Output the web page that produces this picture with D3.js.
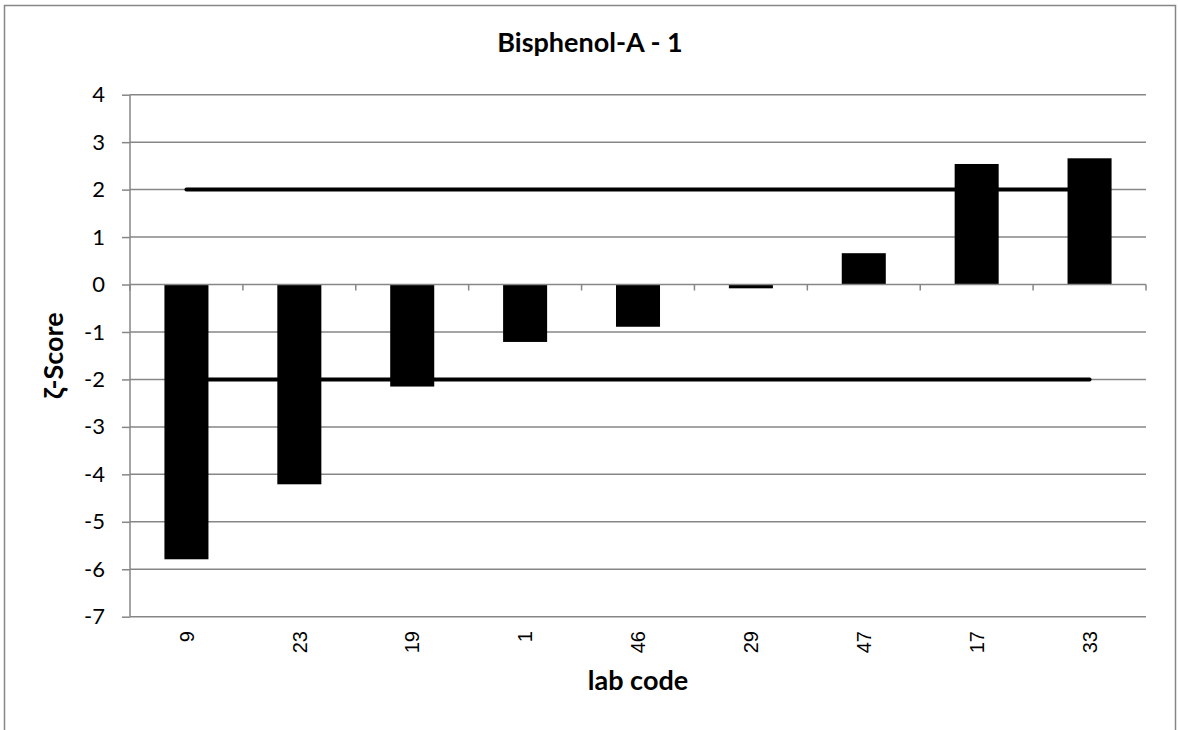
<!DOCTYPE html>
<html>
<head>
<meta charset="utf-8">
<script src="https://cdn.jsdelivr.net/npm/d3@7"></script>
<style>
  html, body { margin: 0; padding: 0; background: #fff; }
  svg { display: block; }
</style>
</head>
<body>
<svg id="chart" width="1178" height="730"></svg>
<script>
const labCodes = ["9", "23", "19", "1", "46", "29", "47", "17", "33"];
const zetaScores = [-5.79, -4.21, -2.15, -1.21, -0.89, -0.08, 0.66, 2.54, 2.66];
const upperLimit = 2;
const lowerLimit = -2;
const yTicks = [4, 3, 2, 1, 0, -1, -2, -3, -4, -5, -6, -7];
const chartTitle = "Bisphenol-A - 1";
const xTitle = "lab code";
const yTitle = "ζ-Score";

const svg = d3.select("#chart");
const W = 1178, H = 730;
const plot = { left: 130, right: 1146, top: 94.7, bottom: 616.7 };
const grid = "#868686";

svg.append("rect").attr("x", 0).attr("y", 0).attr("width", W).attr("height", H).attr("fill", "#fff");
svg.append("rect").attr("x", 4.5).attr("y", 5.5).attr("width", 1171).attr("height", 740)
  .attr("fill", "none").attr("stroke", grid).attr("stroke-width", 1.5);

const x = d3.scaleBand().domain(labCodes).range([plot.left, plot.right]).paddingInner(0.61).paddingOuter(0.305);
const y = d3.scaleLinear().domain([-7, 4]).range([plot.bottom, plot.top]);

// horizontal gridlines + y ticks
const yAxis = d3.axisLeft(y).tickValues(yTicks).tickSize(8).tickFormat(d => d < 0 ? "-" + Math.abs(d) : String(d));
const gy = svg.append("g").attr("transform", `translate(${plot.left},0)`).call(yAxis);
gy.select(".domain").remove();
gy.selectAll(".tick line").attr("stroke", grid).attr("stroke-width", 1.5);
gy.selectAll(".tick text").attr("x", -25).attr("fill", "#000")
  .style("font-family", "Lato, 'Open Sans', sans-serif").style("font-size", "22px");

svg.append("g").selectAll("line").data(yTicks.filter(d => d !== 0)).join("line")
  .attr("x1", plot.left).attr("x2", plot.right)
  .attr("y1", d => y(d)).attr("y2", d => y(d))
  .attr("stroke", grid).attr("stroke-width", 1.5);

// y axis line
svg.append("line").attr("x1", plot.left).attr("x2", plot.left).attr("y1", plot.top).attr("y2", plot.bottom)
  .attr("stroke", grid).attr("stroke-width", 1.5);

// bars
svg.append("g").selectAll("rect").data(zetaScores).join("rect")
  .attr("x", (d, i) => x(labCodes[i]))
  .attr("width", x.bandwidth())
  .attr("y", d => Math.min(y(d), y(0)))
  .attr("height", d => Math.abs(y(d) - y(0)))
  .attr("fill", "#000");

// x axis at zero with ticks at category boundaries
const boundaries = d3.range(labCodes.length + 1).map(i => plot.left + i * (plot.right - plot.left) / labCodes.length);
svg.append("line").attr("x1", plot.left).attr("x2", plot.right).attr("y1", y(0)).attr("y2", y(0))
  .attr("stroke", grid).attr("stroke-width", 1.5);
svg.append("g").selectAll("line").data(boundaries).join("line")
  .attr("x1", d => d).attr("x2", d => d).attr("y1", y(0)).attr("y2", y(0) + 6)
  .attr("stroke", grid).attr("stroke-width", 1.5);

// limit lines
const cFirst = x(labCodes[0]) + x.bandwidth() / 2;
const cLast = x(labCodes[labCodes.length - 1]) + x.bandwidth() / 2;
[upperLimit, lowerLimit].forEach(v => {
  svg.append("line").attr("x1", cFirst).attr("x2", cLast).attr("y1", y(v)).attr("y2", y(v))
    .attr("stroke", "#000").attr("stroke-width", 4).attr("stroke-linecap", "round");
});

// x category labels (rotated)
svg.append("g").selectAll("text").data(labCodes).join("text")
  .attr("transform", d => `translate(${x(d) + x.bandwidth() / 2},631) rotate(-90)`)
  .attr("text-anchor", "end").attr("dy", "0.36em")
  .style("font-family", "'Liberation Sans', Arial, sans-serif").style("font-size", "20px")
  .text(d => d);

// titles
svg.append("text").attr("x", 590).attr("y", 52).attr("text-anchor", "middle")
  .style("font-family", "Lato, 'Open Sans', sans-serif").style("font-weight", "bold").style("font-size", "27px")
  .text(chartTitle);
svg.append("text").attr("x", (plot.left + plot.right) / 2).attr("y", 690).attr("text-anchor", "middle")
  .style("font-family", "Lato, 'Open Sans', sans-serif").style("font-weight", "bold").style("font-size", "27px")
  .text(xTitle);
svg.append("text").attr("transform", `translate(63,${(plot.top + plot.bottom) / 2}) rotate(-90)`).attr("text-anchor", "middle")
  .style("font-family", "Lato, 'Open Sans', sans-serif").style("font-weight", "bold").style("font-size", "27px")
  .text(yTitle);
</script>
</body>
</html>
